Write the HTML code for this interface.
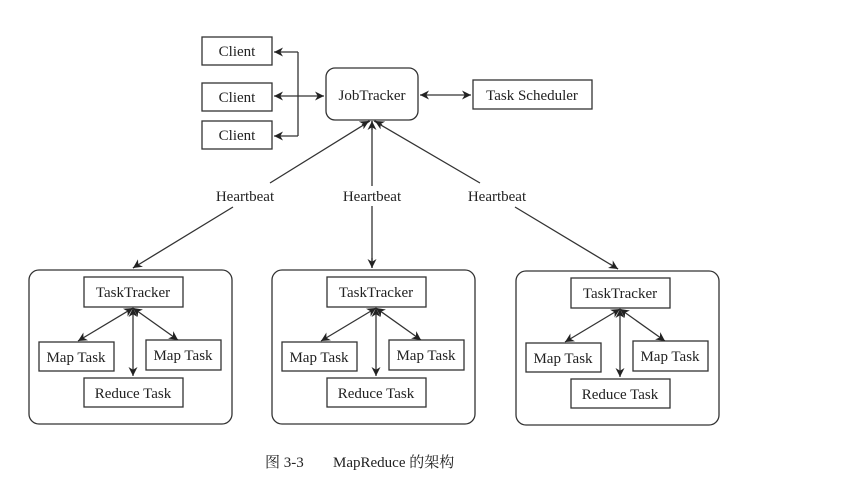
<!DOCTYPE html>
<html><head><meta charset="utf-8"><style>
html,body{margin:0;padding:0;background:#fff;}
svg{display:block;}
text{font-family:"Liberation Serif","Noto Serif CJK SC",serif;fill:#222;}
</style></head><body>
<svg width="851" height="488" viewBox="0 0 851 488" xmlns="http://www.w3.org/2000/svg">
<defs>
<marker id="a" viewBox="0 0 10 10" refX="10" refY="5" markerWidth="9" markerHeight="9" orient="auto-start-reverse" markerUnits="userSpaceOnUse">
<path d="M0,0 L10,5 L0,10 L3,5 z" fill="#222"/></marker>
</defs>
<g stroke="#333" stroke-width="1.3" fill="none">
<rect x="202" y="37" width="70" height="28"/>
<rect x="202" y="83" width="70" height="28"/>
<rect x="202" y="121" width="70" height="28"/>
<rect x="326" y="68" width="92" height="52" rx="9"/>
<rect x="473" y="80" width="119" height="29"/>
<path d="M298,52 V136" />
<path d="M298,52 H274" marker-end="url(#a)"/>
<path d="M298,136 H274" marker-end="url(#a)"/>
<path d="M274,96 H324" marker-start="url(#a)" marker-end="url(#a)"/>
<path d="M420,95 H471" marker-start="url(#a)" marker-end="url(#a)"/>
<path d="M370,121 L270,183 M233,207 L133,268" />
<path d="M372,121 V186 M372,206 V268" />
<path d="M374,121 L480,183 M515,207 L618,269" />
<path d="M362,125 L369,121" marker-end="url(#a)"/>
<path d="M372,130 V121" marker-end="url(#a)"/>
<path d="M382,125 L375,121" marker-end="url(#a)"/>
<path d="M139,264 L133,268" marker-end="url(#a)"/>
<path d="M372,258 V268" marker-end="url(#a)"/>
<path d="M610,264 L618,269" marker-end="url(#a)"/>
</g>
<g font-size="15" text-anchor="middle">
<text x="245" y="201">Heartbeat</text>
<text x="372" y="201">Heartbeat</text>
<text x="497" y="201">Heartbeat</text>
<text x="237" y="56">Client</text>
<text x="237" y="102">Client</text>
<text x="237" y="140">Client</text>
<text x="372" y="100">JobTracker</text>
<text x="532" y="100">Task Scheduler</text>
</g>
<g id="grp">
<g stroke="#333" stroke-width="1.3" fill="none">
<rect x="29" y="270" width="203" height="154" rx="10"/>
<rect x="84" y="277" width="99" height="30"/>
<rect x="39" y="342" width="75" height="29"/>
<rect x="146" y="340" width="75" height="30"/>
<rect x="84" y="378" width="99" height="29"/>
<path d="M133,308 L78,341" marker-start="url(#a)" marker-end="url(#a)"/>
<path d="M133,308 L178,340" marker-start="url(#a)" marker-end="url(#a)"/>
<path d="M133,308 V376" marker-start="url(#a)" marker-end="url(#a)"/>
</g>
<g font-size="15" text-anchor="middle">
<text x="133" y="297">TaskTracker</text>
<text x="76" y="362">Map Task</text>
<text x="183" y="360">Map Task</text>
<text x="133" y="398">Reduce Task</text>
</g>
</g>
<use href="#grp" x="243" y="0"/>
<use href="#grp" x="487" y="1"/>
<text x="265" y="467" font-size="15">图 3-3</text>
<text x="333" y="467" font-size="15">MapReduce 的架构</text>
</svg>
</body></html>
